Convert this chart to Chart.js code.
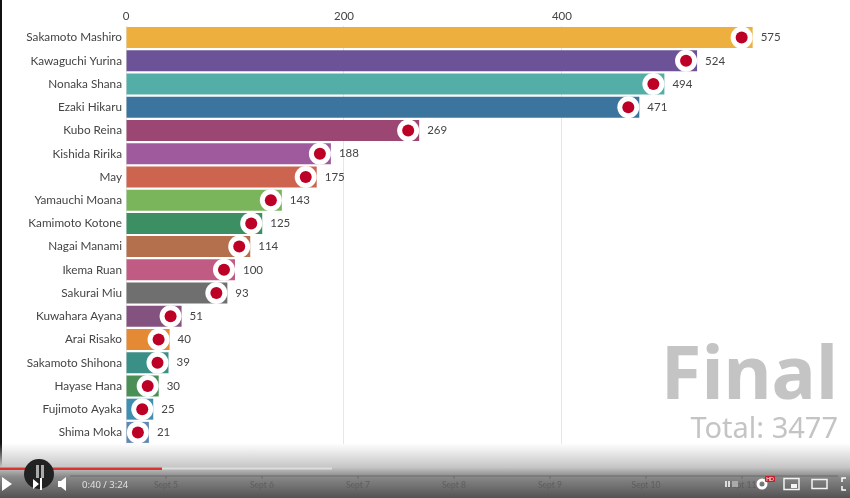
<!DOCTYPE html>
<html><head><meta charset="utf-8">
<style>
html,body{margin:0;padding:0;background:#fff;overflow:hidden}
#wrap{position:relative;width:850px;height:498px;overflow:hidden;font-family:"Noto Sans",sans-serif}
canvas{position:absolute;left:0;top:0}
.ov{position:absolute}
</style>
<script src="https://cdn.jsdelivr.net/npm/chart.js@4/dist/chart.umd.min.js"></script>
</head><body>
<div id="wrap">
<canvas id="c" width="850" height="498"></canvas>
<div class="ov" style="left:640px;top:0;width:0;height:0"></div>
<div class="ov" style="left:0;top:0;width:2px;height:498px;background:#111"></div>
<div class="ov" style="left:640px;top:333px;width:198px;text-align:right;font-size:74px;font-weight:700;color:#c4c4c4;line-height:76px" id="fin">Final</div>
<div class="ov" style="left:618px;top:409px;width:220px;text-align:right;font-size:29px;color:#c4c4c4;line-height:36px" id="tot">Total: 3477</div>
<div class="ov" style="left:0;top:443px;width:850px;height:55px;background:linear-gradient(to bottom,rgba(255,255,255,0),#c6c6c6 44%,#8a8a8a 61%,#535353 100%)"></div>
<svg class="ov" id="yt" style="left:0;top:0" width="850" height="498"></svg>
</div>
<script>
const categories=["Sakamoto Mashiro","Kawaguchi Yurina","Nonaka Shana","Ezaki Hikaru","Kubo Reina","Kishida Ririka","May","Yamauchi Moana","Kamimoto Kotone","Nagai Manami","Ikema Ruan","Sakurai Miu","Kuwahara Ayana","Arai Risako","Sakamoto Shihona","Hayase Hana","Fujimoto Ayaka","Shima Moka"];
const votes=[575,524,494,471,269,188,175,143,125,114,100,93,51,40,39,30,25,21];
const barColors=["#EDAF3E","#6C5296","#54AEA8","#3B749D","#9B4673","#9E5A9C","#CC6450","#7AB55C","#3B8F63","#B46F4D","#C05B84","#6F6F6F","#84527F","#E58A34","#3A8F86","#4A8F55","#3F8FAF","#5F86B4"];
const xTicks=[0,200,400];
const timelineLabels=["Sept 5","Sept 6","Sept 7","Sept 8","Sept 9","Sept 10","Sept 11"];
const FONT='Lato,sans-serif';
const marks={id:'marks',afterDatasetsDraw(ch){
  const g=ch.ctx;const els=ch.getDatasetMeta(0).data;
  els.forEach((el,i)=>{
    const x=el.x,y=el.y;
    g.beginPath();g.arc(x-11,y,11,0,7);g.fillStyle='#fff';g.fill();
    g.beginPath();g.arc(x-11,y,6,0,7);g.fillStyle='#BC0026';g.fill();
    g.fillStyle='#444';g.font='11.5px '+FONT;g.textAlign='left';g.textBaseline='middle';
    g.fillText(String(votes[i]),x+8,y);
  });
}};
new Chart(document.getElementById('c'),{
  type:'bar',
  data:{labels:categories,datasets:[{data:votes,backgroundColor:barColors,barPercentage:.904,categoryPercentage:1}]},
  options:{indexAxis:'y',responsive:false,animation:false,
    layout:{padding:{left:0,right:81,top:0,bottom:54}},
    plugins:{legend:{display:false},tooltip:{enabled:false}},
    scales:{
      x:{position:'top',min:0,max:590,afterFit(a){a.height=26},
        grid:{color:'#e6e6e6',drawTicks:false},border:{display:false},
        afterBuildTicks(a){a.ticks=xTicks.map(v=>({value:v}))},
        ticks:{color:'#444',font:{size:11.5,family:FONT},padding:3,maxRotation:0}},
      y:{afterFit(a){a.width=126},grid:{display:false,drawTicks:false},border:{display:false},
        ticks:{color:'#444',font:{size:11.75,family:FONT},padding:4,autoSkip:false}}
    }},
  plugins:[marks]
});
// player controls
const NS='http://www.w3.org/2000/svg',svg=document.getElementById('yt');
function el(n,a,t){const e=document.createElementNS(NS,n);for(const k in a)e.setAttribute(k,a[k]);if(t)e.textContent=t;svg.appendChild(e);return e}
el('line',{x1:70,y1:476,x2:838,y2:476,stroke:'#6a6a6a','stroke-width':1});
timelineLabels.forEach((s,i)=>{const x=166+96*i;
  el('line',{x1:x,y1:476,x2:x,y2:479,stroke:'#6a6a6a'});
  el('text',{x:x,y:488,'text-anchor':'middle','font-size':8.5,fill:'#5e5e5e','font-family':FONT},s)});
el('rect',{x:0,y:467.5,width:332,height:2,fill:'#ddd'});
el('rect',{x:0,y:467.5,width:162,height:2.5,fill:'#D9332B'});
el('circle',{cx:39,cy:474,r:15,fill:'#222'});
el('path',{d:'M2 477L12 484L2 491Z',fill:'#fff'});
el('path',{d:'M33 479L39 484L33 489ZM40 478h2v12h-2Z',fill:'#fff'});
el('rect',{x:36,y:465,width:3,height:13,fill:'#aaa'});el('rect',{x:41,y:465,width:3,height:13,fill:'#aaa'});
el('path',{d:'M58 481h3l5-4v14l-5-4h-3Z',fill:'#fff'});
el('text',{x:82,y:488,'font-size':9.5,fill:'#e0e0e0','font-family':'"Noto Sans",sans-serif'},'0:40 / 3:24');
el('circle',{cx:762,cy:484,r:4,fill:'none',stroke:'#fff','stroke-width':3});
el('rect',{x:765,y:476,width:10,height:6,rx:1,fill:'#c4202a'});
el('text',{x:770,y:481,'text-anchor':'middle','font-size':5,fill:'#fff','font-family':FONT},'HD');
el('rect',{x:784,y:478.5,width:15,height:11,fill:'none',stroke:'#f4f4f4','stroke-width':1.5});
el('rect',{x:791,y:484,width:6,height:4,fill:'#f4f4f4'});
el('rect',{x:812,y:479.5,width:15,height:9,fill:'none',stroke:'#f4f4f4','stroke-width':1.5});
el('path',{d:'M842 482v-4h4M842 486v4h4',fill:'none',stroke:'#fff','stroke-width':1.5});
el('rect',{x:725,y:481,width:2,height:6,fill:'#ddd'});el('rect',{x:728,y:481,width:2,height:6,fill:'#ddd'});
el('rect',{x:732,y:481,width:6,height:6,fill:'#aaa'});
</script>
</body></html>
